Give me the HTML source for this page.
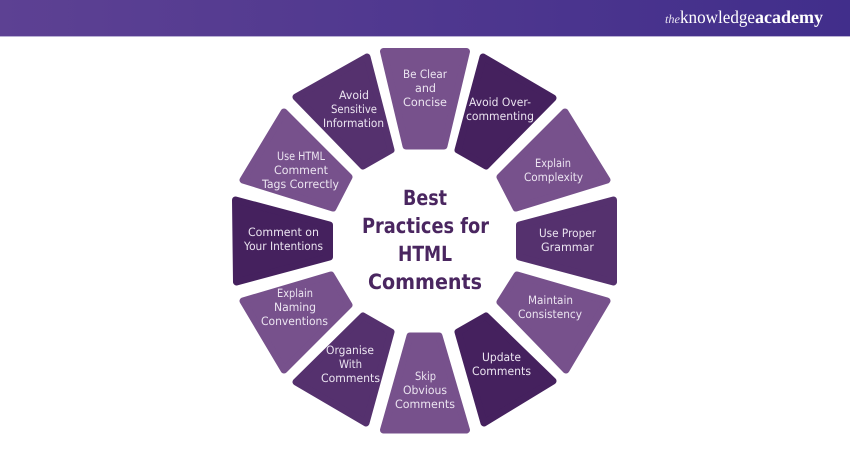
<!DOCTYPE html>
<html>
<head>
<meta charset="utf-8">
<style>
html,body{margin:0;padding:0;background:#fff;width:850px;height:450px;overflow:hidden}
svg{display:block;text-rendering:geometricPrecision}
.l polygon{fill:#77518c;stroke:#77518c}
.m polygon{fill:#55316e;stroke:#55316e}
.d polygon{fill:#45215e;stroke:#45215e}
polygon{stroke-width:7;stroke-linejoin:round}
.t text{font-family:"DejaVu Sans",sans-serif;font-size:11.5px;fill:#ece5f1;text-anchor:start}
.h text{font-family:"DejaVu Sans",sans-serif;font-size:21px;font-weight:bold;fill:#4a2660}
</style>
</head>
<body>
<svg width="850" height="450" viewBox="0 0 850 450" xmlns="http://www.w3.org/2000/svg">
<defs>
<linearGradient id="hd" x1="0" x2="1" y1="0" y2="0">
<stop offset="0" stop-color="#5d4193"/>
<stop offset="1" stop-color="#412e8b"/>
</linearGradient>
</defs>
<rect width="850" height="450" fill="#fff"/>
<rect width="850" height="36" fill="url(#hd)"/>
<rect y="36" width="850" height="1" fill="#b9b0d4"/>
<text x="665" y="23" font-family="Liberation Serif,serif" font-style="italic" font-size="12" fill="#e6e1f0" textLength="15" lengthAdjust="spacingAndGlyphs">the</text>
<text x="680" y="23" font-family="Liberation Serif,serif" font-size="18" fill="#fff" textLength="75" lengthAdjust="spacingAndGlyphs">knowledge</text>
<text x="755" y="23" font-family="Liberation Serif,serif" font-weight="bold" font-size="18" fill="#fff" textLength="68" lengthAdjust="spacingAndGlyphs">academy</text>

<g class="l">
<polygon points="383.5,51.5 466.5,51.5 444,146 406,146"/>
<polygon points="284,112 243,180 333,208 349,177"/>
<polygon points="243,301 331,275 349,305 284,370"/>
<polygon points="410,336 439,336 466.5,430 383.5,430"/>
<polygon points="565,112 607,180 516,208 500,177"/>
<polygon points="517,275 607,301 566,370 500,302"/>
</g>
<g class="m">
<polygon points="367,57 296,97 363,166 391,150"/>
<polygon points="363,316 391,332 366,423 296,382"/>
<polygon points="613.5,200 519.5,225 519.5,257 613.5,282"/>
</g>
<g class="d">
<polygon points="235.5,200 329.5,225 329.5,257 236.5,282"/>
<polygon points="483,57 553,98 486,166 458,150"/>
<polygon points="486,316 458,332 484,423 553,381"/>
</g>

<g class="t">
<text x="403" y="78" textLength="44" lengthAdjust="spacingAndGlyphs">Be Clear</text>
<text x="415" y="92" textLength="21" lengthAdjust="spacingAndGlyphs">and</text>
<text x="403" y="106" textLength="44" lengthAdjust="spacingAndGlyphs">Concise</text>

<text x="339" y="99" textLength="30" lengthAdjust="spacingAndGlyphs">Avoid</text>
<text x="331" y="113" textLength="46" lengthAdjust="spacingAndGlyphs">Sensitive</text>
<text x="323" y="127" textLength="61" lengthAdjust="spacingAndGlyphs">Information</text>

<text x="277" y="160" textLength="48" lengthAdjust="spacingAndGlyphs">Use HTML</text>
<text x="274" y="174" textLength="54" lengthAdjust="spacingAndGlyphs">Comment</text>
<text x="262" y="188" textLength="77" lengthAdjust="spacingAndGlyphs">Tags Correctly</text>

<text x="248" y="236" textLength="71" lengthAdjust="spacingAndGlyphs">Comment on</text>
<text x="244" y="250" textLength="79" lengthAdjust="spacingAndGlyphs">Your Intentions</text>

<text x="277" y="297" textLength="36" lengthAdjust="spacingAndGlyphs">Explain</text>
<text x="274" y="311" textLength="42" lengthAdjust="spacingAndGlyphs">Naming</text>
<text x="261" y="325" textLength="67" lengthAdjust="spacingAndGlyphs">Conventions</text>

<text x="326" y="354" textLength="48" lengthAdjust="spacingAndGlyphs">Organise</text>
<text x="339" y="368" textLength="23" lengthAdjust="spacingAndGlyphs">With</text>
<text x="321" y="382" textLength="59" lengthAdjust="spacingAndGlyphs">Comments</text>

<text x="415" y="380" textLength="21" lengthAdjust="spacingAndGlyphs">Skip</text>
<text x="403" y="394" textLength="44" lengthAdjust="spacingAndGlyphs">Obvious</text>
<text x="395" y="408" textLength="60" lengthAdjust="spacingAndGlyphs">Comments</text>

<text x="469" y="106" textLength="62" lengthAdjust="spacingAndGlyphs">Avoid Over-</text>
<text x="466" y="120" textLength="68" lengthAdjust="spacingAndGlyphs">commenting</text>

<text x="535" y="167" textLength="36" lengthAdjust="spacingAndGlyphs">Explain</text>
<text x="524" y="181" textLength="59" lengthAdjust="spacingAndGlyphs">Complexity</text>

<text x="539" y="237" textLength="57" lengthAdjust="spacingAndGlyphs">Use Proper</text>
<text x="541" y="251" textLength="53" lengthAdjust="spacingAndGlyphs">Grammar</text>

<text x="528" y="304" textLength="45" lengthAdjust="spacingAndGlyphs">Maintain</text>
<text x="518" y="318" textLength="64" lengthAdjust="spacingAndGlyphs">Consistency</text>

<text x="482" y="361" textLength="39" lengthAdjust="spacingAndGlyphs">Update</text>
<text x="472" y="375" textLength="59" lengthAdjust="spacingAndGlyphs">Comments</text>
</g>

<g class="h">
<text x="403" y="205" textLength="44" lengthAdjust="spacingAndGlyphs">Best</text>
<text x="362" y="233" textLength="127" lengthAdjust="spacingAndGlyphs">Practices for</text>
<text x="398" y="261" textLength="54" lengthAdjust="spacingAndGlyphs">HTML</text>
<text x="368" y="289" textLength="114" lengthAdjust="spacingAndGlyphs">Comments</text>
</g>
</svg>
</body>
</html>
